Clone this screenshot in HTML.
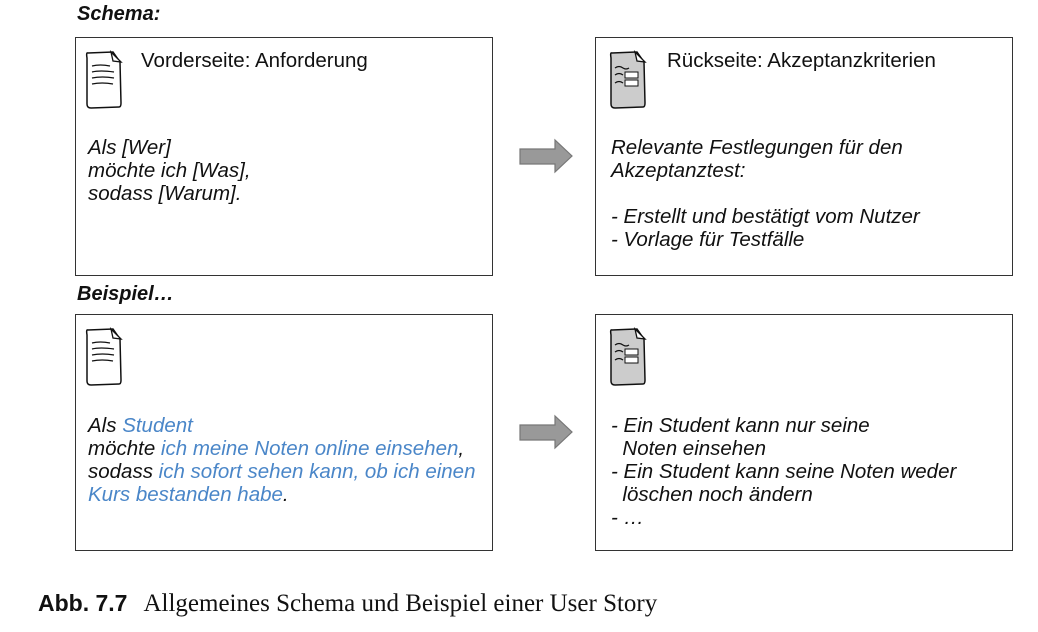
<!DOCTYPE html>
<html><head><meta charset="utf-8"><style>
body{margin:0;width:1038px;height:632px;background:#fff;position:relative;font-family:"Liberation Sans",Arial,sans-serif;overflow:hidden}
.b{position:absolute;border:1.5px solid #333;box-sizing:border-box}
.t{position:absolute;font-size:20.5px;line-height:23px;font-style:italic;color:#111;white-space:nowrap}
.h{position:absolute;font-size:20.5px;color:#111;white-space:nowrap}
.lab{position:absolute;font-size:20px;font-weight:bold;font-style:italic;color:#111}
.bl{color:#4a86c8}
svg{position:absolute}
</style></head><body>
<div class="lab" style="left:77px;top:3px">Schema:</div>
<div class="b" style="left:75px;top:37px;width:418px;height:239px"></div>
<div class="b" style="left:595px;top:37px;width:418px;height:239px"></div>
<div class="lab" style="left:77px;top:283px">Beispiel…</div>
<div class="b" style="left:75px;top:314px;width:418px;height:237px"></div>
<div class="b" style="left:595px;top:314px;width:418px;height:237px"></div>

<svg width="1038" height="632" style="left:0;top:0">
<g transform="translate(85,50)"><path d="M3,3 Q1,2 2,8 L2,54 Q2,58 6,58 L34,57 Q36,57 36,53 L35,12 L28,2 Z" fill="#fff" stroke="#111" stroke-width="1.5"/><path d="M26,2 L36,12 L28,11 Z" fill="#fff" stroke="#111" stroke-width="1.3"/>
<path d="M7,16 q8,-2 18,0 M7,22 q8,-2 22,0 M7,28 q10,-2 22,0 M7,34 q10,-2 21,0" stroke="#111" fill="none" stroke-width="1.3"/></g>
<g transform="translate(85,327)"><path d="M3,3 Q1,2 2,8 L2,54 Q2,58 6,58 L34,57 Q36,57 36,53 L35,12 L28,2 Z" fill="#fff" stroke="#111" stroke-width="1.5"/><path d="M26,2 L36,12 L28,11 Z" fill="#fff" stroke="#111" stroke-width="1.3"/>
<path d="M7,16 q8,-2 18,0 M7,22 q8,-2 22,0 M7,28 q10,-2 22,0 M7,34 q10,-2 21,0" stroke="#111" fill="none" stroke-width="1.3"/></g>
<g transform="translate(609,50)"><path d="M3,3 Q1,2 2,8 L2,54 Q2,58 6,58 L34,57 Q36,57 36,53 L35,12 L28,2 Z" fill="#ccc" stroke="#111" stroke-width="1.5"/><path d="M26,2 L36,12 L28,11 Z" fill="#fff" stroke="#111" stroke-width="1.3"/>
<path d="M6,18 q4,-3 8,0 q3,2 6,0 M6,25 q4,-3 8,0 M6,33 q4,-3 8,0" stroke="#111" fill="none" stroke-width="1.2"/><rect x="16" y="22" width="13" height="6" fill="#fff" stroke="#111"/><rect x="16" y="30" width="13" height="6" fill="#fff" stroke="#111"/></g>
<g transform="translate(609,327)"><path d="M3,3 Q1,2 2,8 L2,54 Q2,58 6,58 L34,57 Q36,57 36,53 L35,12 L28,2 Z" fill="#ccc" stroke="#111" stroke-width="1.5"/><path d="M26,2 L36,12 L28,11 Z" fill="#fff" stroke="#111" stroke-width="1.3"/>
<path d="M6,18 q4,-3 8,0 q3,2 6,0 M6,25 q4,-3 8,0 M6,33 q4,-3 8,0" stroke="#111" fill="none" stroke-width="1.2"/><rect x="16" y="22" width="13" height="6" fill="#fff" stroke="#111"/><rect x="16" y="30" width="13" height="6" fill="#fff" stroke="#111"/></g>
<path d="M520,149 L555,149 L555,140 L572,156 L555,172 L555,164 L520,164 Z" fill="#999" stroke="#777" stroke-width="1.2"/>
<path d="M520,425 L555,425 L555,416 L572,432 L555,448 L555,440 L520,440 Z" fill="#999" stroke="#777" stroke-width="1.2"/>
</svg>

<div class="h" style="left:141px;top:49px">Vorderseite: Anforderung</div>
<div class="h" style="left:667px;top:49px">Rückseite: Akzeptanzkriterien</div>

<div class="t" style="left:88px;top:136px">Als [Wer]<br>möchte ich [Was],<br>sodass [Warum].</div>
<div class="t" style="left:611px;top:136px">Relevante Festlegungen für den<br>Akzeptanztest:<br><br>- Erstellt und bestätigt vom Nutzer<br>- Vorlage für Testfälle</div>

<div class="t" style="left:88px;top:414px">Als <span class="bl">Student</span><br>möchte <span class="bl">ich meine Noten online einsehen</span>,<br>sodass <span class="bl">ich sofort sehen kann, ob ich einen</span><br><span class="bl">Kurs bestanden habe</span>.</div>
<div class="t" style="left:611px;top:414px">- Ein Student kann nur seine<br>&nbsp; Noten einsehen<br>- Ein Student kann seine Noten weder<br>&nbsp; löschen noch ändern<br>- …</div>

<div style="position:absolute;left:38px;top:588px;white-space:nowrap;color:#111;line-height:30px"><span style="font-family:'Liberation Sans',sans-serif;font-weight:bold;font-size:23px">Abb. 7.7</span><span style="display:inline-block;width:16px"></span><span style="font-family:'Liberation Serif',serif;font-size:25px">Allgemeines Schema und Beispiel einer User Story</span></div>
</body></html>
